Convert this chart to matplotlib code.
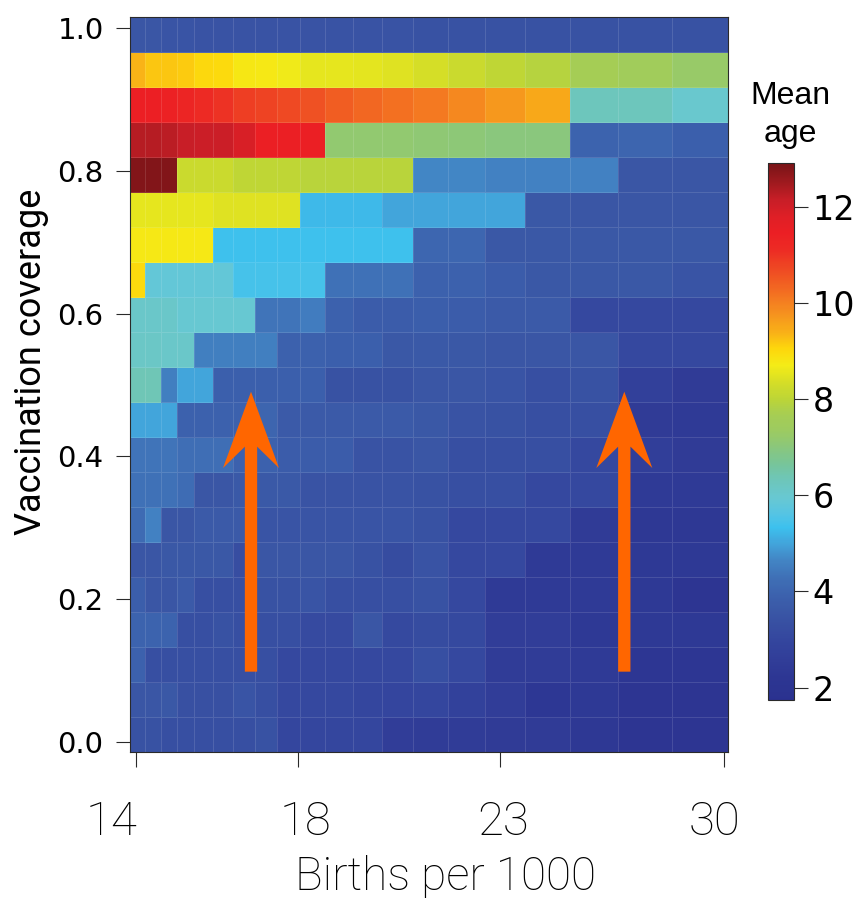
import numpy as np
import matplotlib
matplotlib.use("Agg")
import matplotlib.pyplot as plt
from matplotlib.colors import LinearSegmentedColormap, Normalize

# ---------------- data ----------------
# vaccination coverage rows, top (1.0) to bottom (0.0)
coverage = [1.00, 0.95, 0.90, 0.85, 0.80, 0.75, 0.70, 0.65, 0.60, 0.55, 0.50,
            0.45, 0.40, 0.35, 0.30, 0.25, 0.20, 0.15, 0.10, 0.05, 0.00]

birth_tick_labels = ["14", "18", "23", "30"]

# mean age per cell: one list per coverage row (top to bottom), 20 birth-rate columns
age_100 = [3.55, 3.55, 3.5, 3.5, 3.45, 3.45, 3.45, 3.45, 3.45, 3.45, 3.45, 3.45, 3.45, 3.4, 3.4, 3.4, 3.4, 3.4, 3.4, 3.4]
age_095 = [9.38, 9.2, 9.2, 9.15, 9.02, 9.0, 8.78, 8.75, 8.65, 8.55, 8.55, 8.52, 8.45, 8.35, 8.2, 8.05, 7.9, 7.65, 7.5, 7.25]
age_090 = [11.45, 11.45, 11.4, 11.3, 11.15, 11.0, 10.85, 10.8, 10.7, 10.6, 10.45, 10.3, 10.2, 10.1, 9.9, 9.7, 9.5, 6.3, 6.3, 6.0]
age_085 = [12.3, 12.3, 12.25, 12.15, 12.1, 12.1, 11.9, 11.5, 11.5, 11.5, 7.15, 7.15, 7.15, 7.1, 7.05, 7.0, 7.0, 3.95, 4.0, 3.85]
age_080 = [12.8, 12.8, 12.8, 8.2, 8.2, 8.2, 8.05, 8.05, 8.05, 7.95, 7.95, 7.95, 7.95, 4.65, 4.65, 4.6, 4.6, 4.6, 3.55, 3.55]
age_075 = [8.55, 8.55, 8.55, 8.55, 8.55, 8.45, 8.45, 8.45, 8.45, 5.25, 5.25, 5.25, 5.0, 5.0, 5.0, 5.0, 3.6, 3.55, 3.55, 3.55]
age_070 = [8.75, 8.75, 8.75, 8.75, 8.75, 5.35, 5.35, 5.35, 5.35, 5.35, 5.35, 5.35, 5.35, 4.05, 4.05, 3.6, 3.6, 3.6, 3.6, 3.6]
age_065 = [9.0, 5.85, 5.85, 5.85, 5.85, 5.85, 5.45, 5.45, 5.45, 5.45, 4.3, 4.3, 4.3, 3.9, 3.9, 3.75, 3.6, 3.6, 3.6, 3.5]
age_060 = [6.1, 6.1, 6.1, 5.95, 5.95, 5.95, 5.95, 4.35, 4.35, 4.5, 3.9, 3.75, 3.75, 3.8, 3.75, 3.7, 3.7, 3.05, 3.05, 3.05]
age_055 = [6.15, 6.15, 6.1, 6.1, 4.55, 4.55, 4.55, 4.55, 3.9, 3.9, 3.85, 3.85, 3.6, 3.65, 3.6, 3.55, 3.55, 3.55, 3.05, 3.05]
age_050 = [6.35, 6.35, 4.55, 5.0, 5.0, 3.85, 3.85, 3.85, 3.85, 3.85, 3.4, 3.4, 3.4, 3.55, 3.55, 3.5, 3.3, 3.4, 2.7, 2.45]
age_045 = [5.0, 5.0, 5.0, 3.9, 3.9, 3.9, 3.9, 4.0, 3.7, 3.7, 3.7, 3.7, 3.7, 3.6, 3.45, 3.4, 3.3, 3.3, 2.45, 2.4]
age_040 = [4.35, 4.35, 4.35, 4.25, 4.25, 4.25, 3.9, 3.9, 3.75, 3.75, 3.75, 3.45, 3.45, 3.55, 3.3, 3.3, 3.3, 3.05, 2.6, 2.45]
age_035 = [4.3, 4.3, 4.3, 4.2, 3.55, 3.55, 3.65, 3.65, 3.65, 3.45, 3.45, 3.45, 3.45, 3.4, 3.3, 3.3, 3.05, 3.05, 2.4, 2.4]
age_030 = [4.15, 4.6, 3.55, 3.55, 3.7, 3.7, 3.7, 3.5, 3.5, 3.5, 3.5, 3.5, 3.5, 3.4, 3.05, 3.05, 3.05, 2.45, 2.3, 2.3]
age_025 = [3.55, 3.55, 3.6, 3.6, 3.6, 3.6, 3.25, 3.55, 3.55, 3.55, 3.55, 3.4, 3.2, 3.45, 3.05, 3.05, 2.4, 2.4, 2.35, 2.35]
age_020 = [3.8, 3.55, 3.55, 3.7, 3.3, 3.3, 3.3, 3.4, 3.4, 3.5, 3.3, 3.3, 3.3, 3.4, 3.05, 2.4, 2.4, 2.4, 2.35, 2.15]
age_015 = [3.95, 3.95, 3.95, 3.3, 3.3, 3.4, 3.3, 3.3, 3.3, 3.15, 3.15, 3.55, 3.1, 3.2, 3.1, 2.55, 2.55, 2.35, 2.35, 2.35]
age_010 = [3.9, 3.3, 3.3, 3.3, 3.3, 3.3, 3.3, 3.3, 3.05, 3.05, 3.05, 3.05, 3.05, 3.3, 3.05, 2.5, 2.5, 2.4, 2.2, 2.2]
age_005 = [3.55, 3.55, 3.6, 3.35, 3.35, 3.35, 3.5, 3.3, 3.05, 3.05, 3.05, 3.0, 2.95, 3.0, 2.75, 2.55, 2.25, 2.35, 2.15, 2.15]
age_000 = [3.4, 3.4, 3.3, 3.3, 3.3, 3.3, 3.3, 3.4, 3.0, 3.0, 3.0, 3.0, 2.55, 2.5, 2.5, 2.45, 2.45, 2.3, 2.15, 2.15]

rows = [age_100, age_095, age_090, age_085, age_080, age_075, age_070, age_065,
        age_060, age_055, age_050, age_045, age_040, age_035, age_030, age_025,
        age_020, age_015, age_010, age_005, age_000]

# colour scale of the "Mean age" bar
cbar_ticks = [2, 4, 6, 8, 10, 12]
age_min, age_max = 1.74, 12.92
cmap_stops = [
    (1.74, "#2A3190"), (1.85, "#2B3390"), (2.2, "#2D3693"), (2.55, "#313D98"),
    (2.89, "#33449D"), (3.24, "#374DA1"), (3.58, "#3A57A6"), (3.93, "#3C62AE"),
    (4.28, "#3F70B6"), (4.63, "#4284C4"), (4.98, "#42A3DA"), (5.33, "#3CC1EE"),
    (5.6, "#55C4E4"), (5.95, "#68C8D2"), (6.3, "#6DC6BB"), (6.65, "#77C59A"),
    (7.0, "#8AC77C"), (7.35, "#9DCB60"), (7.66, "#A5CD55"), (8.0, "#BCD537"),
    (8.36, "#D6DE26"), (8.7, "#F4EC17"), (9.05, "#FDD70C"), (9.39, "#F9B117"),
    (9.73, "#F6961E"), (10.08, "#F47A21"), (10.43, "#F15E22"), (10.77, "#EE4523"),
    (11.1, "#ED2C24"), (11.46, "#EC1F24"), (11.8, "#DF1F26"), (12.15, "#C81E27"),
    (12.5, "#A11A1F"), (12.84, "#7F1518"), (12.92, "#7B1416"),
]

# ---------------- layout (geometry, not data) ----------------
W, H = 866, 898
col_widths = [15, 15.7, 16.6, 16.7, 19.3, 20, 21.7, 21.7, 23.3, 25, 28.3, 28.4,
              31.6, 34.4, 37.3, 40, 45, 48.3, 53.4, 56.6]
x_tick_pos = [5.7, 168.3, 370, 594]
x_label_pos = [-19, 175.6, 373, 584.5]
y_lo, y_hi = -0.0132, 1.0154

fig = plt.figure(figsize=(W / 100, H / 100), dpi=100)
ax = fig.add_axes([130 / W, 1 - 751.7 / H, 598.3 / W, 735 / H])

x_edges = np.concatenate([[0], np.cumsum(col_widths)])
y_edges = np.linspace(y_lo, y_hi, len(coverage) + 1)
Z = np.array(rows)[::-1]

span = age_max - age_min
cmap = LinearSegmentedColormap.from_list(
    "meanage", [((v - age_min) / span, c) for v, c in cmap_stops], N=512)
norm = Normalize(vmin=age_min, vmax=age_max)

mesh = ax.pcolormesh(x_edges, y_edges, Z, cmap=cmap, norm=norm,
                     edgecolors=(1, 1, 1, 0.12), linewidth=0.6)
ax.set_xlim(x_edges[0], x_edges[-1])
ax.set_ylim(y_lo, y_hi)

frame_col = "#2a2a2a"
for s in ax.spines.values():
    s.set_color(frame_col)
    s.set_linewidth(0.8)

ax.set_yticks([0.0, 0.2, 0.4, 0.6, 0.8, 1.0])
ax.set_yticklabels(["0.0", "0.2", "0.4", "0.6", "0.8", "1.0"],
                   family="DejaVu Sans", fontsize=21)
ax.tick_params(axis="y", length=10, width=0.8, color=frame_col, pad=9)
ax.set_xticks(x_tick_pos)
ax.set_xticklabels([])
ax.tick_params(axis="x", length=11, width=0.8, color=frame_col)

for xp, lab in zip(x_label_pos, birth_tick_labels):
    ax.text(xp, (751.7 - 835) / 735, lab, transform=ax.get_xaxis_transform(),
            ha="center", va="baseline", fontsize=34, family="Roboto",
            fontweight="light", clip_on=False)

fig.text(445.5 / W, 1 - 890 / H, "Births per 1000", ha="center", va="baseline",
         fontsize=33, family="Roboto", fontweight="light")
fig.text(31 / W, 1 - 362 / H, "Vaccination coverage", ha="center", va="center",
         rotation=90, fontsize=26, family="Roboto")

# orange arrows (annotations)
arrow_x = [121, 494.3]
for xa in arrow_x:
    ax.arrow(xa, 0.0988, 0, 0.4906 - 0.0988, width=12.3, head_width=56,
             head_length=0.1068, overhang=0.28, length_includes_head=True,
             color="#FF6600", linewidth=0, zorder=5)

# colour bar
cax = fig.add_axes([767.7 / W, 1 - 700 / H, 26.6 / W, 537.3 / H])
cb = fig.colorbar(mesh, cax=cax, ticks=cbar_ticks)
cb.outline.set_linewidth(0.8)
cb.outline.set_edgecolor(frame_col)
cax.tick_params(length=10, width=0.8, color=frame_col, pad=3, labelsize=24)
for t in cax.get_yticklabels():
    t.set_family("DejaVu Sans")

fig.text(790 / W, 1 - 104 / H, "Mean", ha="center", va="baseline",
         fontsize=23, family="Liberation Sans")
fig.text(790 / W, 1 - 142 / H, "age", ha="center", va="baseline",
         fontsize=23, family="Liberation Sans")

fig.savefig("out.png", dpi=100)
